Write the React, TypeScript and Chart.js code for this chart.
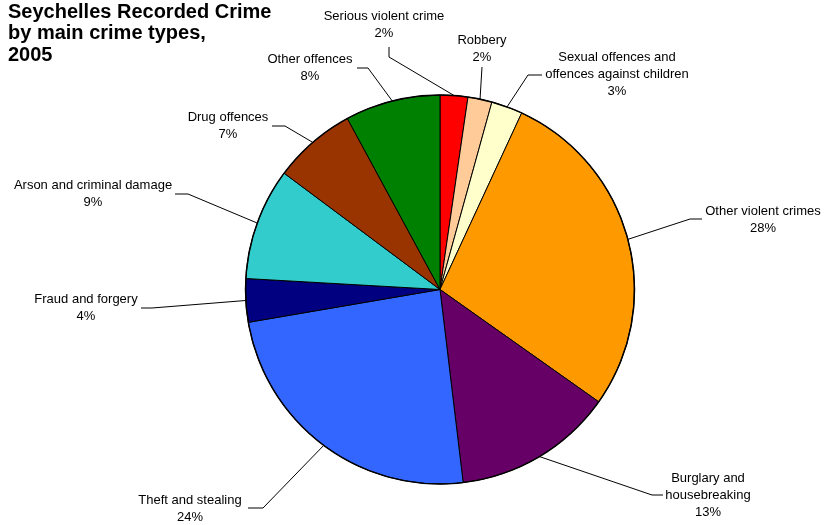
import React, { useEffect, useRef } from "react";
import { Chart, registerables } from "chart.js";

Chart.register(...registerables);

const categories: string[][] = [
  ["Serious violent crime"],
  ["Robbery"],
  ["Sexual offences and", "offences against children"],
  ["Other violent crimes"],
  ["Burglary and", "housebreaking"],
  ["Theft and stealing"],
  ["Fraud and forgery"],
  ["Arson and criminal damage"],
  ["Drug offences"],
  ["Other offences"],
];

const shares: number[] = [2.3, 2.0, 2.6, 27.9, 13.3, 24.2, 3.6, 9.3, 6.9, 7.9];

const colors: string[] = [
  "#FF0000",
  "#FFCC99",
  "#FFFFCC",
  "#FF9900",
  "#660066",
  "#3366FF",
  "#000080",
  "#33CCCC",
  "#993300",
  "#008000",
];

const titleLines: string[] = ["Seychelles Recorded Crime", "by main crime types,", "2005"];

// Label layout (text centre x, first-line y, leader points before reaching the slice edge)
const labelLayout: { x: number; y: number; lead: number[][] }[] = [
  { x: 384, y: 16, lead: [[389, 47], [389, 57]] },
  { x: 482, y: 40, lead: [[482, 67]] },
  { x: 617, y: 57, lead: [[542, 75], [528, 75]] },
  { x: 763, y: 211, lead: [[702, 219], [690, 219]] },
  { x: 708, y: 478, lead: [[663, 495], [652, 495]] },
  { x: 190, y: 500, lead: [[248, 508], [263, 508]] },
  { x: 86, y: 299, lead: [[141, 308], [152, 308]] },
  { x: 93, y: 185, lead: [[175, 194], [188, 194]] },
  { x: 228, y: 117, lead: [[272, 126], [285, 126]] },
  { x: 310, y: 59, lead: [[357, 68], [368, 68]] },
];

const FONT = '"Liberation Sans", Arial, sans-serif';

const labelPlugin = {
  id: "pieLabels",
  afterDraw(chart: any) {
    const ctx = chart.ctx as CanvasRenderingContext2D;
    const meta = chart.getDatasetMeta(0);
    const data = chart.data.datasets[0].data as number[];
    const total = data.reduce((a, b) => a + b, 0);
    ctx.save();
    // title
    ctx.fillStyle = "#000";
    ctx.font = `bold 20px ${FONT}`;
    ctx.textAlign = "left";
    ctx.textBaseline = "middle";
    titleLines.forEach((t, i) => ctx.fillText(t, 8, 12 + i * 21.5));

    ctx.font = `13px ${FONT}`;
    ctx.textAlign = "center";
    meta.data.forEach((arc: any, i: number) => {
      const { x, y, startAngle, endAngle, outerRadius } = arc.getProps(
        ["x", "y", "startAngle", "endAngle", "outerRadius"],
        true
      );
      const mid = (startAngle + endAngle) / 2;
      const ex = x + Math.cos(mid) * outerRadius;
      const ey = y + Math.sin(mid) * outerRadius;
      const lay = labelLayout[i];
      ctx.strokeStyle = "#000";
      ctx.lineWidth = 1;
      ctx.beginPath();
      lay.lead.forEach((p, j) => {
        if (j === 0) ctx.moveTo(p[0], p[1]);
        else ctx.lineTo(p[0], p[1]);
      });
      ctx.lineTo(ex, ey);
      ctx.stroke();
      const lines = [...categories[i], Math.round((data[i] / total) * 100) + "%"];
      lines.forEach((t, j) => ctx.fillText(t, lay.x, lay.y + j * 17));
    });
    // outer rim
    const first = meta.data[0];
    if (first) {
      const { x, y, outerRadius } = first.getProps(["x", "y", "outerRadius"], true);
      ctx.beginPath();
      ctx.arc(x, y, outerRadius, 0, Math.PI * 2);
      ctx.lineWidth = 1.5;
      ctx.stroke();
    }
    ctx.restore();
  },
};

export default function App() {
  const ref = useRef<HTMLCanvasElement | null>(null);
  useEffect(() => {
    if (!ref.current) return;
    const chart = new Chart(ref.current, {
      type: "pie",
      data: {
        labels: categories.map((c) => c.join(" ")),
        datasets: [
          {
            data: shares,
            backgroundColor: colors,
            borderColor: "#000",
            borderWidth: 1,
          },
        ],
      },
      options: {
        animation: false,
        responsive: true,
        maintainAspectRatio: false,
        layout: { padding: { left: 245, right: 189, top: 94, bottom: 40 } },
        plugins: {
          legend: { display: false },
          tooltip: { enabled: false },
          title: { display: false },
        },
      },
      plugins: [labelPlugin],
    });
    return () => chart.destroy();
  }, []);
  return (
    <div style={{ position: "fixed", left: 0, top: 0, width: 824, height: 525, background: "#fff" }}>
      <canvas ref={ref} />
    </div>
  );
}
